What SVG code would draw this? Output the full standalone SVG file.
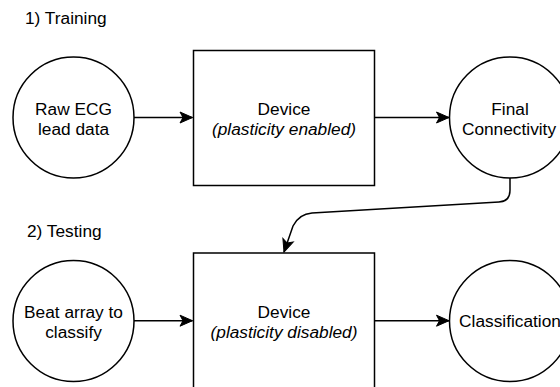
<svg xmlns="http://www.w3.org/2000/svg" width="560" height="387" viewBox="0 0 560 387">
  <style>
    .shape { fill: #ffffff; stroke: #000000; stroke-width: 1.5; }
    .edge { fill: none; stroke: #000000; stroke-width: 1.5; }
    text { font-family: "Liberation Sans", Arial, Helvetica, sans-serif; font-size: 17.3px; fill: #000000; }
    .c { text-anchor: middle; }
    .i { font-style: italic; }
  </style>
  <defs>
    <marker id="arrow" markerUnits="userSpaceOnUse" markerWidth="16" markerHeight="14" refX="12.5" refY="5.5" orient="auto" overflow="visible">
      <path d="M0,0 L12.5,5.5 L0,11 L3,5.5 Z" fill="#000000" stroke="#000000" stroke-width="1"/>
    </marker>
  </defs>

  <rect width="560" height="387" fill="#ffffff"/>

  <!-- section titles -->
  <text x="25" y="24.3">1) Training</text>
  <text x="27" y="236.7">2) Testing</text>

  <!-- connectors -->
  <g id="connectors">
    <path class="edge" d="M134,117.5 L192.5,117.5" marker-end="url(#arrow)"/>
    <path class="edge" d="M374.5,117.5 L449,117.5" marker-end="url(#arrow)"/>
    <path class="edge" d="M510,178 L510,190 Q510,201.5 499,202 L312,213 Q299,214 293,226 L284,252" marker-end="url(#arrow)"/>
    <path class="edge" d="M134,320.7 L192.5,320.7" marker-end="url(#arrow)"/>
    <path class="edge" d="M374.5,320.7 L449,320.7" marker-end="url(#arrow)"/>
  </g>

  <!-- training row -->
  <g id="raw-ecg">
    <circle class="shape" cx="73.5" cy="117.5" r="60.5"/>
    <text class="c" x="73.5" y="115">Raw ECG</text>
    <text class="c" x="73.5" y="135">lead data</text>
  </g>
  <g id="device-training">
    <rect class="shape" x="193.5" y="50.5" width="181" height="135"/>
    <text class="c" x="284" y="115">Device</text>
    <text class="c i" x="284" y="135">(plasticity enabled)</text>
  </g>
  <g id="final-connectivity">
    <circle class="shape" cx="510" cy="117.5" r="60.5"/>
    <text class="c" x="510" y="115">Final</text>
    <text class="c" x="509" y="135">Connectivity</text>
  </g>

  <!-- testing row -->
  <g id="beat-array">
    <circle class="shape" cx="73.5" cy="321" r="60.5"/>
    <text class="c" x="73.5" y="317.5">Beat array to</text>
    <text class="c" x="73.5" y="338">classify</text>
  </g>
  <g id="device-testing">
    <rect class="shape" x="193.5" y="253" width="181" height="140"/>
    <text class="c" x="284" y="317.5">Device</text>
    <text class="c i" x="284" y="338">(plasticity disabled)</text>
  </g>
  <g id="classification">
    <circle class="shape" cx="510" cy="321" r="60.5"/>
    <text class="c" x="510" y="327.3">Classification</text>
  </g>
</svg>
